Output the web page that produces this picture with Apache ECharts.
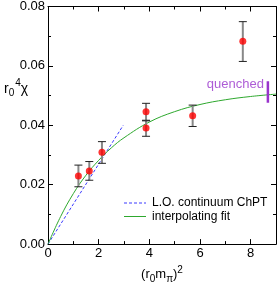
<!DOCTYPE html>
<html><head><meta charset="utf-8">
<script src="https://cdn.jsdelivr.net/npm/echarts@6/dist/echarts.min.js"></script>
<style>html,body{margin:0;padding:0;background:#fff}#c{width:277px;height:289px}</style>
</head><body><div id="c"></div>
<script>
// measured points: x, y, lower, upper
const pointsX = [1.20, 1.63, 2.13, 3.87, 3.87, 5.71, 7.69];
const pointsY = [0.0229, 0.0246, 0.0309, 0.0446, 0.0391, 0.0432, 0.0683];
const pointsLo = [0.0193, 0.0215, 0.0272, 0.0417, 0.0363, 0.0396, 0.0615];
const pointsHi = [0.0266, 0.0278, 0.0345, 0.0474, 0.0415, 0.0468, 0.0749];
// L.O. continuum ChPT line
const chptX = [0, 2.97];
const chptY = [0, 0.0400];
// interpolating fit
const fitX = [0, 0.5, 1, 1.5, 2, 2.5, 3, 4, 5, 6, 7, 8, 9];
const fitY = [0, 0.0093, 0.0170, 0.0232, 0.0282, 0.0324, 0.0358, 0.0411, 0.0446, 0.0470, 0.0486, 0.0497, 0.0505];
// quenched value
const quenchedX = 8.68;
const quenchedLo = 0.0476;
const quenchedHi = 0.0548;
const quenchedLabelY = 0.0537;
const xTicks = [0, 2, 4, 6, 8];
const yTicks = [0.00, 0.02, 0.04, 0.06, 0.08];
const legendNames = ['L.O. continuum ChPT', 'interpolating fit'];

const FONT = 'Liberation Sans';
const BLUE = '#3a3aff', GREEN = '#2ea82e', PURPLE = '#9933cc';
const chart = echarts.init(document.getElementById('c'), null, {renderer: 'canvas'});
const zip = (a, b) => a.map((v, i) => [v, b[i]]);

const baseAxis = {
  axisLine: {show: true, onZero: false, lineStyle: {color: '#000', width: 1}},
  axisTick: {show: true, inside: true, length: 5, lineStyle: {color: '#000'}},
  minorTick: {show: true, splitNumber: 2, length: 3, lineStyle: {color: '#000'}},
  splitLine: {show: false},
};

chart.setOption({
  animation: false,
  grid: {left: 48, right: 1, top: 5, bottom: 41},
  xAxis: [
    Object.assign({}, baseAxis, {
      type: 'value', min: 0, max: 9, interval: 2,
      axisLabel: {color: '#000', fontFamily: FONT, fontSize: 13, margin: 3,
        customValues: xTicks, formatter: v => String(v)},
      name: '(r{sub|0}m{sub|π}){sup|2}', nameLocation: 'middle', nameGap: 17,
      nameTextStyle: {color: '#000', fontFamily: FONT, fontSize: 13, verticalAlign: 'top',
        rich: {sub: {fontSize: 10, fontFamily: FONT, padding: [9, 0, 0, 0]},
               sup: {fontSize: 10, fontFamily: FONT, padding: [0, 0, 9, 0]}}}
    }),
    Object.assign({}, baseAxis, {
      type: 'value', min: 0, max: 9, interval: 2, position: 'top',
      axisLabel: {show: false}
    })
  ],
  yAxis: [
    Object.assign({}, baseAxis, {
      type: 'value', min: 0, max: 0.08, interval: 0.02,
      axisLabel: {color: '#000', fontFamily: FONT, fontSize: 13, margin: 3,
        customValues: yTicks, formatter: v => v.toFixed(2)}
    }),
    Object.assign({}, baseAxis, {
      type: 'value', min: 0, max: 0.08, interval: 0.02, position: 'right',
      axisLabel: {show: false}
    })
  ],
  graphic: [
    {
      type: 'text', left: 4, top: 78,
      style: {
        text: 'r{sub|0}{sup|4}χ', fontFamily: FONT, fontSize: 14, fill: '#000',
        rich: {sub: {fontSize: 10, fontFamily: FONT, padding: [9, 0, 0, 0]},
               sup: {fontSize: 10, fontFamily: FONT, padding: [0, 0, 12, 1]}}
      }
    },
    // legend
    {type: 'line', shape: {x1: 124, y1: 203, x2: 146, y2: 203}, style: {stroke: BLUE, lineWidth: 1, lineDash: [3, 2]}},
    {type: 'text', x: 152, y: 203, style: {text: legendNames[0], fontFamily: FONT, fontSize: 12, fill: '#000', verticalAlign: 'middle'}},
    {type: 'line', shape: {x1: 124, y1: 216.5, x2: 146, y2: 216.5}, style: {stroke: GREEN, lineWidth: 1}},
    {type: 'text', x: 152, y: 216.5, style: {text: legendNames[1], fontFamily: FONT, fontSize: 12, fill: '#000', verticalAlign: 'middle'}}
  ],
  series: [
    {
      name: legendNames[0], type: 'line', data: zip(chptX, chptY), symbol: 'none',
      lineStyle: {color: BLUE, width: 1, type: [3, 2]}, itemStyle: {color: BLUE}, z: 3
    },
    {
      name: legendNames[1], type: 'line', data: zip(fitX, fitY), symbol: 'none', smooth: 0.4,
      lineStyle: {color: GREEN, width: 1}, itemStyle: {color: GREEN}, z: 3
    },
    {
      name: 'errors', type: 'custom', z: 4,
      data: pointsX.map((x, i) => [x, pointsLo[i], pointsHi[i]]),
      renderItem: (params, api) => {
        const lo = api.coord([api.value(0), api.value(1)]);
        const hi = api.coord([api.value(0), api.value(2)]);
        const w = 4;
        return {type: 'group', children: [
          {type: 'line', shape: {x1: lo[0], y1: lo[1], x2: hi[0], y2: hi[1]}, style: {stroke: '#888', lineWidth: 2}},
          {type: 'line', shape: {x1: lo[0] - w, y1: lo[1], x2: lo[0] + w, y2: lo[1]}, style: {stroke: '#222', lineWidth: 1}},
          {type: 'line', shape: {x1: hi[0] - w, y1: hi[1], x2: hi[0] + w, y2: hi[1]}, style: {stroke: '#222', lineWidth: 1}}
        ]};
      }
    },
    {
      name: 'points', type: 'scatter', data: zip(pointsX, pointsY), symbol: 'circle', symbolSize: 7,
      itemStyle: {color: '#ff0000'}, z: 5
    },
    {
      name: 'quenched', type: 'line', data: [[quenchedX, quenchedLo], [quenchedX, quenchedHi]],
      symbol: 'none', lineStyle: {color: PURPLE, width: 2.5}, z: 6
    },
    {
      name: 'quenchedLabel', type: 'scatter', data: [[quenchedX, quenchedLabelY]], symbolSize: 0,
      label: {show: true, position: 'left', distance: 4, formatter: 'quenched',
        color: PURPLE, fontFamily: FONT, fontSize: 13}, z: 6
    }
  ]
});
</script></body></html>
